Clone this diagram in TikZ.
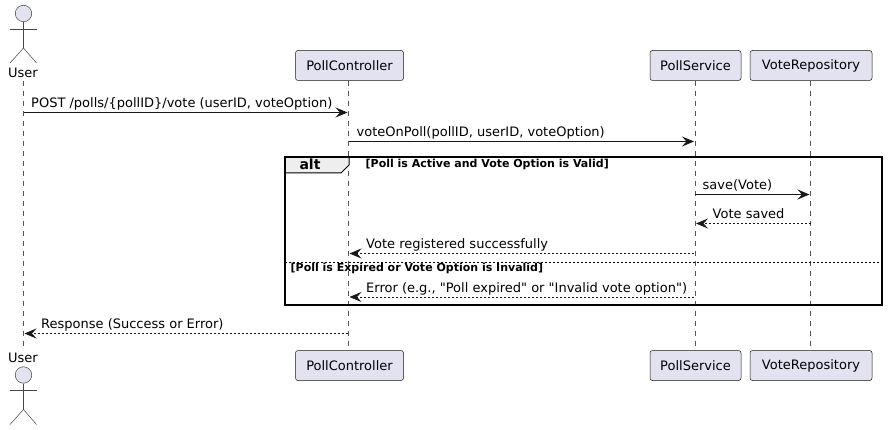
\documentclass[tikz,border=0pt]{standalone}
\usepackage{fontspec}
\setmainfont{DejaVu Sans}
\newfontfamily\plainfont{DejaVu Sans}
\usetikzlibrary{arrows.meta}
\definecolor{partfill}{HTML}{E2E2F0}
\definecolor{partline}{HTML}{181818}
\definecolor{lifeline}{HTML}{555555}
\definecolor{tabfill}{HTML}{EEEEEE}
\tikzset{
  x=1pt,y=-1pt,
  part/.style={draw=partline,fill=partfill,rounded corners=2.5pt,line width=0.5pt,minimum height=30pt,inner sep=0pt,font=\fontsize{13}{15}\selectfont,text=black},
  life/.style={draw=lifeline,line width=0.5pt,dash pattern=on 5pt off 5pt},
  actorline/.style={draw=partline!80,line width=0.5pt},
  msg/.style={draw=partline,line width=0.9pt,-{Stealth[length=12pt,width=10pt,inset=4.5pt]}},
  ret/.style={draw=partline,line width=0.7pt,dash pattern=on 2pt off 2pt,-{Stealth[length=12pt,width=10pt,inset=4.5pt]}},
  lbl/.style={anchor=base west,inner sep=0pt,font=\fontsize{13}{15}\selectfont,text=black},
  frameline/.style={draw=black,line width=1.5pt},
  guard/.style={anchor=base west,inner sep=0pt,font=\fontsize{11}{13}\selectfont\bfseries,text=black}
}
\begin{document}
\begin{tikzpicture}
\useasboundingbox (0,0) rectangle (888,430);
\fill[white] (0,0) rectangle (888,430);
% lifeline ends
\coordinate (ut) at (23.5,81); \coordinate (ub) at (23.5,349);
\coordinate (ct) at (348.5,81); \coordinate (cb) at (348.5,349);
\coordinate (st) at (695,81); \coordinate (sb) at (695,349);
\coordinate (rt) at (810.5,81); \coordinate (rb) at (810.5,349);
\draw[life] (ut) -- (ub);
\draw[life] (ct) -- (cb);
\draw[life] (st) -- (sb);
\draw[life] (rt) -- (rb);
% participants
\node[part,minimum width=108pt] (pc1) at (349.5,65.5) {PollController};
\node[part,minimum width=91pt] (ps1) at (695.5,65.5) {PollService};
\node[part,minimum width=122pt] (vr1) at (811,65.5) {VoteRepository};
\node[part,minimum width=108pt] (pc2) at (349.5,365.5) {PollController};
\node[part,minimum width=91pt] (ps2) at (695.5,365.5) {PollService};
\node[part,minimum width=122pt] (vr2) at (811,365.5) {VoteRepository};
% actors
\node[draw=partline!80,fill=partfill,circle,minimum size=16.5pt,inner sep=0pt,line width=0.5pt] (h1) at (23.5,13.5) {};
\coordinate (w1) at (23.5,48); \coordinate (al1) at (10,29); \coordinate (ar1) at (36.5,29);
\coordinate (ll1) at (10,63); \coordinate (lr1) at (36.5,63);
\draw[actorline] (h1) -- (w1);
\draw[actorline] (al1) -- (ar1);
\draw[actorline] (ll1) -- (w1) -- (lr1);
\node[lbl,anchor=base] (u1) at (23,78) {User};
\node[draw=partline!80,fill=partfill,circle,minimum size=16.5pt,inner sep=0pt,line width=0.5pt] (h2) at (23.5,375) {};
\coordinate (w2) at (23.5,409.5); \coordinate (al2) at (10,390.5); \coordinate (ar2) at (36.5,390.5);
\coordinate (ll2) at (10,424.5); \coordinate (lr2) at (36.5,424.5);
\draw[actorline] (h2) -- (w2);
\draw[actorline] (al2) -- (ar2);
\draw[actorline] (ll2) -- (w2) -- (lr2);
\node[lbl,anchor=base] (u2) at (23,362) {User};
% frame
\coordinate (fa) at (285,157); \coordinate (fb) at (882,305);
\coordinate (ta) at (349,157); \coordinate (tb) at (349,165); \coordinate (tc) at (341,173); \coordinate (td) at (285,173);
\fill[tabfill] (fa) -- (ta) -- (tb) -- (tc) -- (td) -- cycle;
\draw[draw=black,line width=1pt] (ta) -- (tb) -- (tc) -- (td);
\draw[frameline] (fa) rectangle (fb);
\node[anchor=base,inner sep=0pt,font=\fontsize{14}{16}\selectfont\bfseries] (alt) at (310,170) {alt};
\node[guard] (g1) at (365.5,168) {[Poll is Active and Vote Option is Valid]};
\coordinate (da) at (285,262); \coordinate (db) at (882,262);
\draw[draw=black,line width=0.8pt,dash pattern=on 2pt off 2pt] (da) -- (db);
\node[guard] (g2) at (290.5,272) {[Poll is Expired or Vote Option is Invalid]};
% messages
\coordinate (m1a) at (23.5,112.5); \coordinate (m1b) at (347.5,112.5);
\draw[msg] (m1a) -- (m1b);
\node[lbl] (t1) at (31,107.5) {POST /polls/\{pollID\}/vote (userID, voteOption)};
\coordinate (m2a) at (348.5,141.5); \coordinate (m2b) at (694,141.5);
\draw[msg] (m2a) -- (m2b);
\node[lbl] (t2) at (356.5,136.5) {voteOnPoll(pollID, userID, voteOption)};
\coordinate (m3a) at (695,194.5); \coordinate (m3b) at (809.5,194.5);
\draw[msg] (m3a) -- (m3b);
\node[lbl] (t3) at (702.5,189.5) {save(Vote)};
\coordinate (m4a) at (810.5,223.5); \coordinate (m4b) at (696,223.5);
\draw[ret] (m4a) -- (m4b);
\node[lbl] (t4) at (712.5,219) {Vote saved};
\coordinate (m5a) at (694,253.5); \coordinate (m5b) at (349.5,253.5);
\draw[ret] (m5a) -- (m5b);
\node[lbl] (t5) at (366,248.5) {Vote registered successfully};
\coordinate (m6a) at (694,297); \coordinate (m6b) at (349.5,297);
\draw[ret] (m6a) -- (m6b);
\node[lbl] (t6) at (366,292) {\plainfont Error (e.g., "Poll expired" or "Invalid vote option")};
\coordinate (m7a) at (347.5,333.5); \coordinate (m7b) at (24.5,333.5);
\draw[ret] (m7a) -- (m7b);
\node[lbl] (t7) at (41,328.5) {Response (Success or Error)};
\end{tikzpicture}
\end{document}
